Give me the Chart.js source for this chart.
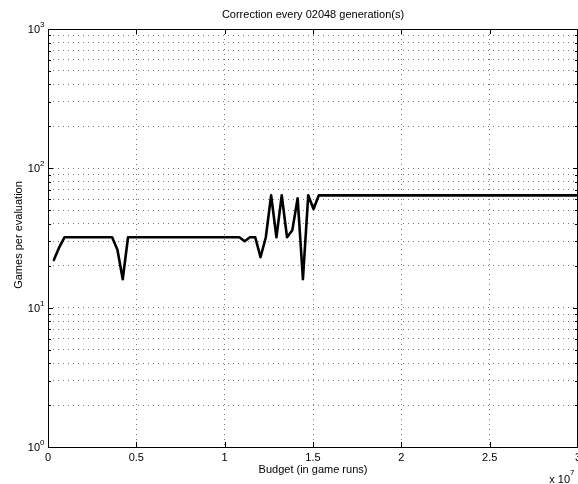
<!DOCTYPE html>
<html>
<head>
<meta charset="utf-8">
<script src="https://cdn.jsdelivr.net/npm/chart.js@4/dist/chart.umd.min.js"></script>
<style>
  html, body { margin: 0; padding: 0; background: #fff; }
  #wrap { width: 578px; height: 484px; }
</style>
</head>
<body>
<div id="wrap"><canvas id="chart" width="578" height="484"></canvas></div>
<script>
// budget (game runs) where the games-per-evaluation value changes
const budget = [330000, 630000, 930000, 3630000, 3930000, 4230000, 4530000,
    10830000, 11130000, 11430000, 11730000, 12030000, 12330000, 12630000,
    12930000, 13230000, 13530000, 13830000, 14130000, 14430000, 14730000,
    15030000, 15330000, 30000000];
const gamesPerEval = [22, 27, 32, 32, 26, 16, 32,
    32, 30, 32, 32, 23, 32, 64,
    32, 64, 32, 36, 61, 16, 64,
    51, 64, 64];

const xTicks = [0, 5e6, 1e7, 1.5e7, 2e7, 2.5e7, 3e7];
const xTickLabels = ["0", "0.5", "1", "1.5", "2", "2.5", "3"];
const yDecades = [1, 10, 100, 1000];
const yExponents = ["0", "1", "2", "3"];

const titleText = "Correction every 02048 generation(s)";
const xLabel = "Budget (in game runs)";
const yLabel = "Games per evaluation";
const FONT = '"Liberation Sans", Arial, Helvetica, sans-serif';

const points = budget.map((b, i) => ({ x: b, y: gamesPerEval[i] }));

// minor + major log positions for the grid
function logGridValues() {
    const vals = [];
    for (let d = 0; d < 3; d++) {
        for (let m = 1; m <= 9; m++) vals.push(m * Math.pow(10, d));
    }
    vals.push(1000);
    return vals;
}

const matlabAxes = {
    id: "matlabAxes",
    afterDraw(chart) {
        const ctx = chart.ctx;
        const a = chart.chartArea;
        const xs = chart.scales.x;
        const ys = chart.scales.y;
        ctx.save();

        // box
        ctx.strokeStyle = "#000";
        ctx.lineWidth = 1;
        ctx.setLineDash([]);
        ctx.strokeRect(Math.round(a.left) + 0.5, Math.round(a.top) + 0.5,
            Math.round(a.right - a.left) - 1, Math.round(a.bottom - a.top));

        // x tick marks (inside, bottom and top)
        ctx.beginPath();
        xTicks.forEach(v => {
            const px = Math.round(xs.getPixelForValue(v)) + 0.5;
            ctx.moveTo(px, a.bottom); ctx.lineTo(px, a.bottom - 5);
            ctx.moveTo(px, a.top); ctx.lineTo(px, a.top + 5);
        });
        // y tick marks, major and minor
        logGridValues().forEach(v => {
            const py = Math.round(ys.getPixelForValue(v)) + 0.5;
            const major = yDecades.includes(v);
            const len = major ? 5 : 3;
            ctx.moveTo(a.left, py); ctx.lineTo(a.left + len, py);
            ctx.moveTo(a.right, py); ctx.lineTo(a.right - len, py);
        });
        ctx.stroke();

        ctx.fillStyle = "#000";
        // x tick labels
        ctx.font = "11px " + FONT;
        ctx.textAlign = "center";
        ctx.textBaseline = "top";
        xTicks.forEach((v, i) => {
            ctx.fillText(xTickLabels[i], xs.getPixelForValue(v), a.bottom + 5);
        });

        // y tick labels 10^n
        yDecades.forEach((v, i) => {
            const py = ys.getPixelForValue(v);
            ctx.font = "11px " + FONT;
            ctx.textAlign = "right";
            ctx.textBaseline = "middle";
            ctx.fillText("10", a.left - 8, py + 1);
            ctx.font = "8px " + FONT;
            ctx.textAlign = "left";
            ctx.textBaseline = "alphabetic";
            ctx.fillText(yExponents[i], a.left - 8, py - 2);
        });

        // title
        ctx.font = "11px " + FONT;
        ctx.textAlign = "center";
        ctx.textBaseline = "middle";
        ctx.fillText(titleText, (a.left + a.right) / 2, 15);

        // x label
        ctx.fillText(xLabel, (a.left + a.right) / 2, 470);

        // x 10^7 multiplier
        ctx.textAlign = "right";
        ctx.fillText("x 10", 570, 480);
        ctx.font = "8px " + FONT;
        ctx.textAlign = "left";
        ctx.textBaseline = "alphabetic";
        ctx.fillText("7", 570, 475);

        // y label
        ctx.font = "11px " + FONT;
        ctx.translate(19, (a.top + a.bottom) / 2 - 3);
        ctx.rotate(-Math.PI / 2);
        ctx.textAlign = "center";
        ctx.textBaseline = "middle";
        ctx.fillText(yLabel, 0, 0);

        ctx.restore();
    }
};

const gridOpts = {
    drawTicks: false,
    color: "#777",
    lineWidth: 1
};

new Chart(document.getElementById("chart"), {
    type: "line",
    data: {
        datasets: [{
            data: points,
            borderColor: "#000",
            borderWidth: 2.6,
            borderJoinStyle: "round",
            borderCapStyle: "round",
            pointRadius: 0,
            tension: 0,
            fill: false
        }]
    },
    options: {
        responsive: false,
        animation: false,
        events: [],
        layout: { padding: { left: 48, top: 29, right: 0, bottom: 37 } },
        plugins: {
            legend: { display: false },
            tooltip: { enabled: false },
            title: { display: false }
        },
        scales: {
            x: {
                type: "linear",
                min: 0,
                max: 3e7,
                afterFit: s => { s.height = 0; },
                afterBuildTicks: s => { s.ticks = xTicks.map(v => ({ value: v })); },
                ticks: { display: false },
                border: { display: false, dash: [1, 4] },
                grid: gridOpts
            },
            y: {
                type: "logarithmic",
                min: 1,
                max: 1000,
                afterFit: s => { s.width = 0; },
                afterBuildTicks: s => { s.ticks = logGridValues().map(v => ({ value: v })); },
                ticks: { display: false },
                border: { display: false, dash: [1, 4] },
                grid: gridOpts
            }
        }
    },
    plugins: [matlabAxes]
});
</script>
</body>
</html>
